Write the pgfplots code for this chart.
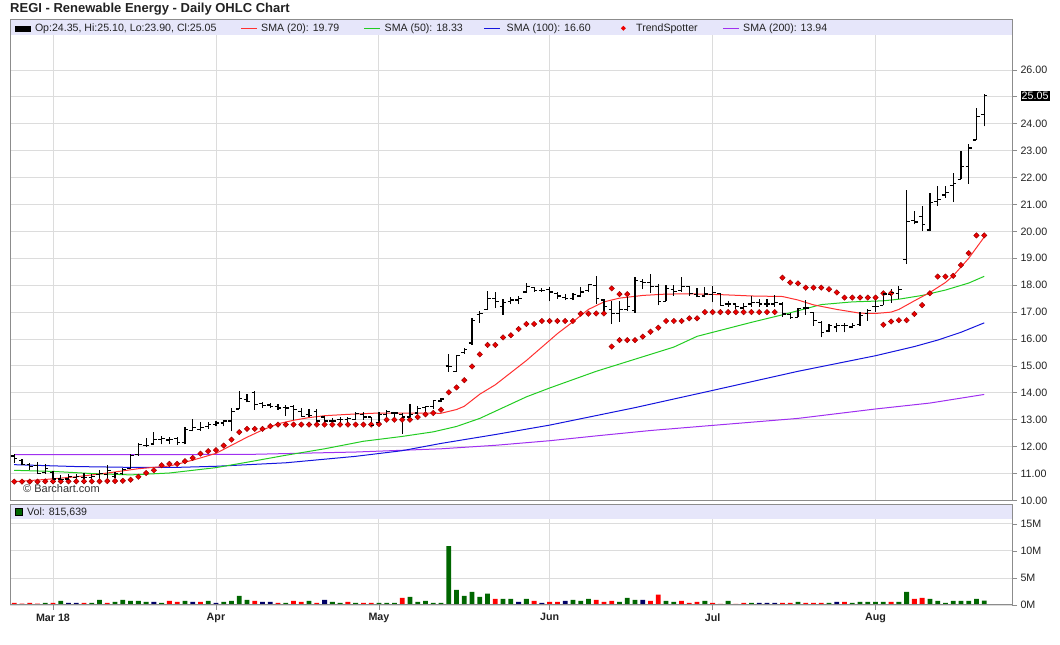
\documentclass[border=0pt]{standalone}
\usepackage{fontspec}
\setmainfont{Liberation Sans}
\usepackage{pgfplots}
\usepackage{pgfplotstable}
\pgfplotsset{compat=1.18}

\definecolor{bandc}{HTML}{E6E6FA}
\definecolor{gridc}{HTML}{DCDCDC}
\definecolor{framec}{HTML}{8C8C8C}
\definecolor{smared}{HTML}{FF3030}
\definecolor{smagreen}{HTML}{22CC22}
\definecolor{smablue}{HTML}{1515DD}
\definecolor{smapurple}{HTML}{A030F0}
\definecolor{volgreen}{HTML}{006600}
\definecolor{volred}{HTML}{FF0000}
\definecolor{volnavy}{HTML}{000066}
\definecolor{tsfill}{HTML}{EE0000}
\definecolor{tsdraw}{HTML}{990000}
\definecolor{txt}{HTML}{222222}

\pgfdeclareplotmark{openl}{\pgfpathmoveto{\pgfqpoint{-3.2pt}{0pt}}\pgfpathlineto{\pgfqpoint{0pt}{0pt}}\pgfusepathqstroke}
\pgfdeclareplotmark{closer}{\pgfpathmoveto{\pgfqpoint{0pt}{0pt}}\pgfpathlineto{\pgfqpoint{3.2pt}{0pt}}\pgfusepathqstroke}
\pgfdeclareplotmark{nothing}{}

\pgfplotstableread{
i o h l c
0 11.65 11.72 11.39 11.57
1 11.50 11.55 11.30 11.33
2 11.33 11.39 11.14 11.26
3 11.30 11.42 10.98 11.00
4 11.05 11.35 10.98 11.20
5 11.05 11.08 10.70 10.80
6 10.80 10.95 10.70 10.77
7 10.80 11.00 10.70 10.90
8 10.85 11.00 10.70 10.90
9 10.85 11.02 10.68 10.85
10 10.85 11.00 10.70 10.90
11 10.95 11.14 10.77 11.00
12 10.95 11.30 10.80 11.10
13 10.90 11.05 10.83 11.00
14 11.00 11.20 10.95 11.14
15 11.20 11.74 11.20 11.68
16 11.70 12.14 11.67 12.08
17 12.05 12.33 11.99 12.05
18 12.10 12.55 12.10 12.26
19 12.28 12.38 12.08 12.30
20 12.25 12.35 12.08 12.28
21 12.30 12.35 12.07 12.14
22 12.15 12.73 12.08 12.64
23 12.60 13.03 12.57 12.70
24 12.65 12.90 12.60 12.70
25 12.75 12.92 12.65 12.82
26 12.82 12.95 12.75 12.88
27 12.88 13.00 12.75 12.95
28 12.95 13.44 12.57 13.32
29 13.40 14.06 13.40 13.78
30 13.75 13.95 13.65 13.69
31 14.00 14.06 13.38 13.56
32 13.60 13.65 13.45 13.53
33 13.55 13.62 13.45 13.50
34 13.50 13.58 13.38 13.44
35 13.45 13.55 13.15 13.44
36 13.50 13.55 13.00 13.38
37 13.30 13.44 13.13 13.13
38 13.20 13.40 13.10 13.15
39 13.30 13.40 12.90 12.95
40 13.10 13.10 12.85 12.95
41 12.95 13.05 12.90 12.95
42 13.00 13.12 12.85 13.00
43 13.00 13.12 12.85 13.05
44 13.00 13.27 12.98 13.23
45 13.20 13.27 13.00 13.10
46 13.10 13.12 12.75 12.80
47 12.90 13.27 12.88 13.20
48 13.20 13.35 13.10 13.30
49 13.25 13.30 13.10 13.25
50 13.20 13.24 12.48 13.10
51 13.10 13.60 13.10 13.20
52 13.25 13.50 13.25 13.43
53 13.45 13.52 13.30 13.50
54 13.50 13.74 13.40 13.72
55 13.70 13.80 13.65 13.77
56 15.00 15.44 14.79 14.97
57 14.80 15.40 14.79 15.40
58 15.50 15.68 15.45 15.60
59 15.85 16.77 15.78 16.70
60 16.90 17.05 16.60 16.95
61 17.10 17.80 17.07 17.50
62 17.50 17.75 17.15 17.40
63 17.20 17.50 16.90 17.35
64 17.40 17.55 17.30 17.45
65 17.45 17.60 17.30 17.50
66 17.75 18.08 17.72 17.96
67 17.90 17.95 17.75 17.80
68 17.80 17.90 17.75 17.80
69 17.85 17.92 17.40 17.75
70 17.70 17.75 17.50 17.60
71 17.55 17.68 17.45 17.50
72 17.50 17.72 17.45 17.65
73 17.60 17.95 17.55 17.75
74 17.80 18.06 17.75 18.03
75 18.00 18.33 17.32 17.50
76 17.45 17.50 16.88 17.20
77 17.10 17.42 16.55 16.95
78 16.95 17.42 16.65 17.10
79 17.10 17.64 17.05 17.20
80 17.05 18.30 16.98 18.18
81 18.15 18.22 17.85 18.10
82 18.10 18.43 17.70 17.96
83 17.95 18.05 17.25 17.40
84 17.40 18.00 17.40 17.88
85 17.85 18.00 17.60 17.78
86 17.80 18.30 17.75 17.94
87 17.95 17.98 17.60 17.70
88 17.65 17.90 17.55 17.57
89 17.60 17.94 17.55 17.67
90 17.65 17.96 17.36 17.73
91 17.70 17.70 17.25 17.26
92 17.30 17.40 17.20 17.30
93 17.30 17.35 17.10 17.20
94 17.15 17.35 17.05 17.20
95 17.30 17.60 17.20 17.36
96 17.35 17.50 17.20 17.30
97 17.30 17.50 17.20 17.30
98 17.30 17.65 17.20 17.36
99 17.30 17.38 16.83 16.93
100 16.90 16.98 16.75 16.80
101 16.80 17.17 16.80 17.14
102 17.15 17.45 16.90 17.15
103 17.00 17.00 16.50 16.68
104 16.60 16.67 16.06 16.25
105 16.30 16.57 16.25 16.50
106 16.45 16.60 16.25 16.50
107 16.50 16.60 16.25 16.50
108 16.45 16.60 16.40 16.50
109 16.55 16.99 16.50 16.86
110 16.95 17.10 16.68 17.07
111 17.20 17.50 17.00 17.20
112 17.25 17.77 17.25 17.67
113 17.65 17.85 17.35 17.73
114 17.70 17.98 17.50 17.85
115 18.96 21.52 18.78 20.38
116 20.40 20.75 20.26 20.35
117 20.55 20.94 20.00 20.25
118 20.05 21.41 20.00 21.06
119 21.10 21.70 20.94 21.19
120 21.35 21.70 21.25 21.46
121 21.70 22.17 21.09 21.78
122 21.93 22.98 21.93 22.42
123 22.40 23.26 21.78 23.10
124 23.40 24.58 23.40 24.28
125 24.35 25.10 23.90 25.05
}\ohlc

\pgfplotstableread{
i y
0 10.70
1 10.70
2 10.70
3 10.70
4 10.71
5 10.71
6 10.71
7 10.71
8 10.71
9 10.71
10 10.71
11 10.71
12 10.72
13 10.72
14 10.73
15 10.77
16 10.88
17 11.02
18 11.12
19 11.31
20 11.36
21 11.36
22 11.46
23 11.58
24 11.74
25 11.83
26 11.87
27 12.04
28 12.26
29 12.54
30 12.66
31 12.66
32 12.66
33 12.76
34 12.82
35 12.82
36 12.82
37 12.82
38 12.82
39 12.82
40 12.82
41 12.82
42 12.82
43 12.82
44 12.82
45 12.82
46 12.82
47 12.84
48 13.00
49 13.00
50 13.00
51 13.00
52 13.10
53 13.20
54 13.25
55 13.37
56 14.02
57 14.20
58 14.47
59 14.98
60 15.43
61 15.78
62 15.78
63 16.06
64 16.14
65 16.37
66 16.56
67 16.56
68 16.67
69 16.67
70 16.67
71 16.67
72 16.67
73 16.94
74 16.94
75 16.95
76 16.95
77 17.88
78 17.67
79 17.67
77 15.72
78 15.96
79 15.96
80 15.96
81 16.09
82 16.27
83 16.42
84 16.67
85 16.67
86 16.67
87 16.77
88 16.77
89 17.00
90 17.00
91 17.00
92 17.00
93 17.00
94 17.00
95 17.00
96 17.00
97 17.00
98 17.00
99 18.28
100 18.10
101 18.07
102 17.91
103 17.91
104 17.91
105 17.85
106 17.73
107 17.54
108 17.54
109 17.54
110 17.54
111 17.54
112 17.70
113 17.70
112 16.53
113 16.65
114 16.70
115 16.70
116 16.93
117 17.26
118 17.70
119 18.32
120 18.32
121 18.35
122 18.75
123 19.19
124 19.85
125 19.85
}\ts

\pgfplotstableread{
i y
0 10.70
4 10.78
8 10.88
12 11.02
16 11.18
20 11.28
22 11.42
24 11.58
26 11.75
28 12.05
30 12.35
32 12.62
34 12.85
36 12.98
38 13.08
40 13.15
43 13.20
47 13.25
51 13.25
55 13.24
57 13.38
58 13.50
60 13.95
62 14.30
64 14.75
66 15.20
68 15.70
70 16.20
72 16.64
74 17.10
76 17.38
78 17.52
81 17.62
84 17.67
87 17.68
91 17.65
95 17.60
99 17.58
101 17.45
103 17.27
106 17.10
109 16.96
111 16.95
113 17.00
114 17.10
116 17.42
118 17.73
120 18.10
121 18.35
123 19.00
125 19.79
}\smaA

\pgfplotstableread{
i y
0 11.12
5 11.08
10 11.00
15 10.95
20 11.02
26 11.22
30 11.42
35 11.68
40 11.92
45 12.20
50 12.38
54 12.55
57 12.75
60 13.05
63 13.45
66 13.85
69 14.18
75 14.80
80 15.25
85 15.70
88 16.10
95 16.62
99 16.90
104 17.28
108 17.38
112 17.42
114 17.48
117 17.62
120 17.82
123 18.08
125 18.33
}\smaB

\pgfplotstableread{
i y
0 11.33
8 11.26
15 11.23
21 11.23
26 11.27
35 11.40
44 11.64
50 11.85
55 12.12
62 12.45
69 12.80
80 13.45
90 14.09
101 14.80
111 15.38
116 15.72
119 15.96
122 16.25
125 16.60
}\smaC

\pgfplotstableread{
i y
0 11.70
30 11.71
44 11.80
55 11.92
62 12.05
69 12.22
75 12.40
82 12.60
90 12.79
101 13.05
111 13.40
118 13.62
125 13.94
}\smaD

\pgfplotsset{
  panel/.style={
    scale only axis, width=1002pt,
    xmin=-0.54, xmax=128.58,
    axis line style={framec, line width=1pt},
    grid=major, major grid style={gridc, line width=0.9pt},
    xtick={5,26,47,69,90,111},
    ytick pos=right, tick align=outside,
    major tick length=5pt,
    tick style={framec, line width=0.8pt},
    tick label style={font=\fontsize{10.7}{12}\selectfont, text=txt},
    /pgf/number format/assume math mode=true,
  }
}

\begin{document}
\begin{tikzpicture}
\path[use as bounding box] (0pt,0pt) rectangle (1060pt,645pt);

\node[anchor=base west, inner sep=0pt, text=txt, font=\fontsize{13}{15}\selectfont\bfseries] at (10pt,632.5pt) {REGI - Renewable Energy - Daily OHLC Chart};

\begin{axis}[panel,
  at={(10pt,144pt)}, anchor=south west, height=481pt,
  ymin=9.98, ymax=27.857,
  ytick={10,11,...,26},
  yticklabel style={/pgf/number format/fixed, /pgf/number format/fixed zerofill, /pgf/number format/precision=2},
  xticklabels={}, xtick style={draw=none},
]
\fill[bandc] (rel axis cs:0,0.9688) rectangle (rel axis cs:1,1);
\addplot[smapurple, line width=1pt] table[x=i,y=y] {\smaD};
\addplot[smablue, line width=1pt] table[x=i,y=y] {\smaC};
\addplot[smagreen, line width=1pt] table[x=i,y=y] {\smaB};
\addplot[smared, line width=1pt] table[x=i,y=y] {\smaA};
\addplot[only marks, mark=square*, mark size=1.9pt, mark options={rotate=45, fill=tsfill, draw=tsdraw, line width=0.5pt}] table[x=i,y=y] {\ts};
\addplot[only marks, mark=nothing, error bars/.cd, y dir=plus, y explicit, error mark=none, error bar style={black, line width=1.2pt}] table[x=i, y=l, y error expr=\thisrow{h}-\thisrow{l}] {\ohlc};
\addplot[only marks, mark=openl, mark options={black, line width=1.2pt}] table[x=i,y=o] {\ohlc};
\addplot[only marks, mark=closer, mark options={black, line width=1.2pt}] table[x=i,y=c] {\ohlc};
\draw[framec, line width=1pt] (rel axis cs:0,0) rectangle (rel axis cs:1,1);
\end{axis}

\begin{axis}[panel,
  at={(10pt,40pt)}, anchor=south west, height=100pt,
  ymin=0, ymax=18.5,
  ytick={0,5,10,15}, yticklabels={0M,5M,10M,15M},
  xticklabels={Mar 18,Apr,May,Jun,Jul,Aug},
  xtick pos=left,
  xticklabel style={font=\fontsize{10.7}{12}\selectfont\bfseries, text=txt},
]
\fill[bandc] (rel axis cs:0,0.86) rectangle (rel axis cs:1,1);
\addplot[ybar, bar shift=0pt, bar width=4.8pt, fill=volgreen, draw=none] coordinates {(4,0.38) (6,0.75) (10,0.38) (11,0.94) (13,0.57) (14,0.94) (15,0.75) (16,0.75) (17,0.57) (19,0.38) (22,0.75) (25,0.75) (27,0.57) (28,0.75) (29,1.7) (30,0.94) (35,0.38) (38,0.75) (41,0.57) (42,0.38) (44,0.38) (47,0.38) (48,0.38) (49,0.38) (51,1.5) (52,0.57) (53,0.75) (54,0.38) (55,0.38) (56,10.9) (57,2.8) (58,1.7) (59,2.45) (60,1.5) (61,2.1) (63,1.13) (64,1.13) (66,1.13) (72,0.94) (73,0.75) (74,1.13) (78,0.57) (79,1.3) (80,0.94) (84,0.75) (85,0.57) (89,0.75) (92,0.75) (95,0.38) (101,0.57) (105,0.38) (108,0.38) (109,0.57) (110,0.57) (111,0.57) (112,0.57) (114,0.57) (115,2.45) (118,1.13) (119,0.75) (120,0.38) (121,0.75) (122,0.75) (123,0.75) (124,1.13) (125,0.82)};
\addplot[ybar, bar shift=0pt, bar width=4.8pt, fill=volred, draw=none] coordinates {(0,0.38) (1,0.25) (2,0.38) (3,0.25) (5,0.38) (9,0.38) (12,0.38) (20,0.75) (21,0.57) (24,0.57) (31,0.75) (34,0.38) (36,0.75) (37,0.57) (39,0.38) (43,0.57) (45,0.38) (46,0.38) (50,1.3) (62,1.13) (67,0.75) (69,0.57) (70,0.57) (75,0.94) (76,0.57) (77,0.75) (82,0.75) (83,1.9) (86,0.75) (87,0.38) (88,0.57) (90,0.38) (91,0.2) (93,0.2) (94,0.38) (99,0.38) (100,0.38) (102,0.38) (103,0.38) (104,0.38) (107,0.57) (113,0.57) (116,1.13) (117,1.3)};
\addplot[ybar, bar shift=0pt, bar width=4.8pt, fill=volnavy, draw=none] coordinates {(7,0.38) (8,0.38) (18,0.57) (23,0.57) (26,0.38) (32,0.57) (33,0.57) (40,0.94) (65,0.57) (68,0.38) (71,0.75) (81,0.94) (96,0.38) (97,0.38) (98,0.38) (106,0.57)};
\draw[framec, line width=1pt] (rel axis cs:0,0) rectangle (rel axis cs:1,1);
\end{axis}

% legend of the price panel
\begin{scope}[font=\fontsize{10.6}{12}\selectfont, text=txt]
\fill[black] (15pt,613pt) rectangle (31pt,618.6pt);
\node[anchor=base west, inner sep=0pt] at (34.8pt,613.5pt) {Op:24.35, Hi:25.10, Lo:23.90, Cl:25.05};
\draw[smared, line width=1.2pt] (241pt,616.5pt) -- (257pt,616.5pt);
\node[anchor=base west, inner sep=0pt] at (261pt,613.5pt) {SMA (20): 19.79};
\draw[smagreen, line width=1.2pt] (364pt,616.5pt) -- (380pt,616.5pt);
\node[anchor=base west, inner sep=0pt] at (384.5pt,613.5pt) {SMA (50): 18.33};
\draw[smablue, line width=1.2pt] (484pt,616.5pt) -- (500pt,616.5pt);
\node[anchor=base west, inner sep=0pt] at (506.5pt,613.5pt) {SMA (100): 16.60};
\fill[tsfill] (623.3pt,614.2pt) -- (625.8pt,616.7pt) -- (623.3pt,619.2pt) -- (620.8pt,616.7pt) -- cycle;
\node[anchor=base west, inner sep=0pt] at (636pt,613.5pt) {TrendSpotter};
\draw[smapurple, line width=1.2pt] (723pt,616.5pt) -- (739pt,616.5pt);
\node[anchor=base west, inner sep=0pt] at (743pt,613.5pt) {SMA (200): 13.94};
% volume legend
\fill[volgreen] (15.5pt,129.3pt) rectangle (22.5pt,136.5pt);
\draw[black, line width=0.6pt] (15.5pt,129.3pt) rectangle (22.5pt,136.5pt);
\node[anchor=base west, inner sep=0pt] at (27pt,129.2pt) {Vol: 815,639};
% watermark
\node[anchor=base west, inner sep=0pt, font=\fontsize{11}{13}\selectfont, text=black!80] at (23pt,152.7pt) {\char"00A9\ Barchart.com};
% last price box
\node[anchor=west, fill=black, text=white, inner sep=1.2pt, font=\fontsize{10.7}{12}\selectfont] at (1020.3pt,548.8pt) {25.05};
\end{scope}
\end{tikzpicture}
\end{document}
